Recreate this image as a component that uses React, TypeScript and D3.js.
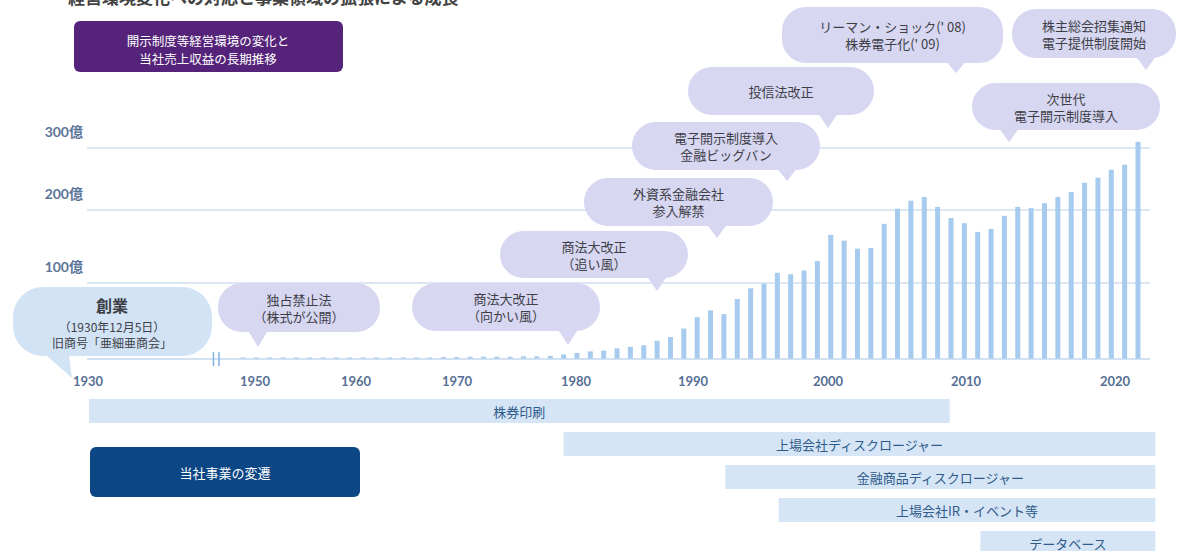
import React from 'react';
import * as d3 from 'd3';

const W = 1190;
const H = 551;

// ---------- data ----------
const FIRST_YEAR = 1955;
// 売上収益 (億円), fiscal years 1955 .. 2022
const revenue = [
  2, 2, 2, 2, 2, 2, 2, 2, 2, 2, 2,
  2, 2, 2, 2, 2.5, 2.5,
  3, 3, 3, 3, 3.5, 3.5, 4,
  6, 8, 10, 11, 14, 16, 18, 24, 29, 40, 55,
  64, 59, 79, 93, 99, 114, 112, 117, 130, 166,
  158, 147, 148, 181, 202, 215, 221, 205, 189, 182,
  170, 174, 192, 205, 203, 211, 221, 229, 244, 252,
  265, 273, 310,
];
const years = revenue.map((_, i) => FIRST_YEAR + i);

const yTicks = [100, 200, 300];
const yTickLabels = ['100億', '200億', '300億'];
const xTickYears = [1930, 1950, 1960, 1970, 1980, 1990, 2000, 2010, 2020];

const businessNames = [
  '株券印刷',
  '上場会社ディスクロージャー',
  '金融商品ディスクロージャー',
  '上場会社IR・イベント等',
  'データベース',
];
const businessStart = [1930, 1979, 1991.1, 1995.1, 2010.2];
const businessEnd = [2007.9, 2023.3, 2023.3, 2023.3, 2023.3];

const eventTexts: string[][] = [
  ['独占禁止法', '（株式が公開）'],
  ['商法大改正', '（向かい風）'],
  ['商法大改正', '（追い風）'],
  ['外資系金融会社', '参入解禁'],
  ['電子開示制度導入', '金融ビッグバン'],
  ['投信法改正'],
  ["リーマン・ショック(' 08)", "株券電子化(' 09)"],
  ['株主総会招集通知', '電子提供制度開始'],
  ['次世代', '電子開示制度導入'],
];

const foundingTexts = ['創業', '（1930年12月5日）', '旧商号「亜細亜商会」'];
const titleText = '開示制度等経営環境の変化と';
const titleText2 = '当社売上収益の長期推移';
const businessTitle = '当社事業の変遷';
const headText = '経営環境変化への対応と事業領域の拡張による成長';

// ---------- layout ----------
const BASE_Y = 359;
const yScale = d3.scaleLinear().domain([0, 100, 200, 300]).range([BASE_Y, 283, 210, 148]);
const xScale = d3.scaleLinear().domain([1930, 1955, 2022]).range([89, 243, 1138]);
const xLabelScale = d3
  .scaleLinear()
  .domain(xTickYears)
  .range([88, 255, 356, 457, 576, 693, 828, 966, 1115]);

const GRID_X0 = 87;
const GRID_X1 = 1150;
const BAR_W = 5;

// bubble boxes: [x0, y0, x1, y1, tipX, tipY]
const bubbleLayout: number[][] = [
  [218, 283, 380, 332, 258, 347],
  [412, 283, 600, 331, 568, 345],
  [500, 231, 688, 278, 657, 291],
  [584, 178, 773, 226, 717, 238],
  [632, 122, 820, 170, 787, 181],
  [688, 67, 874, 115, 828, 128],
  [782, 7, 1003, 63, 956, 73],
  [1012, 9, 1176, 58, 1146, 70],
  [972, 83, 1160, 130, 1009, 142],
];

const ROW_Y0 = 399;
const ROW_STEP = 33;
const ROW_H = 24;

const JP = "'Noto Sans CJK JP', 'Noto Sans', sans-serif";
const NUM = "Lato, 'Noto Sans CJK JP', sans-serif";

function Bubble({ box, lines, fill }: { box: number[]; lines: string[]; fill: string }) {
  const [x0, y0, x1, y1, tx, ty] = box;
  const h = y1 - y0;
  const r = Math.min(h / 2, 24);
  const cx = (x0 + x1) / 2;
  const cy = (y0 + y1) / 2;
  const lh = 17;
  const startY = cy - ((lines.length - 1) * lh) / 2;
  return (
    <g>
      <rect x={x0} y={y0} width={x1 - x0} height={h} rx={r} ry={r} fill={fill} />
      <polygon points={`${tx - 11},${y1 - 3} ${tx + 11},${y1 - 3} ${tx},${ty}`} fill={fill} />
      {lines.map((l, i) => (
        <text
          key={i}
          x={cx}
          y={startY + i * lh}
          textAnchor="middle"
          dominantBaseline="central"
          fontFamily={JP}
          fontSize={13}
          fill="#3e3e46"
        >
          {l}
        </text>
      ))}
    </g>
  );
}

export default function App() {
  return (
    <svg
      width={W}
      height={H}
      viewBox={`0 0 ${W} ${H}`}
      style={{ position: 'fixed', left: 0, top: 0, background: '#fff' }}
    >
      <rect x={0} y={0} width={W} height={H} fill="#fff" />

      {/* clipped heading */}
      <text x={68} y={4} fontFamily={JP} fontSize={17} fontWeight={700} fill="#444">
        {headText}
      </text>

      {/* purple title box */}
      <rect x={74} y={21} width={269} height={51} rx={6} fill="#55237a" />
      <text x={208} y={40} textAnchor="middle" dominantBaseline="central" fontFamily={JP} fontSize={12.5} fill="#fff">
        {titleText}
      </text>
      <text x={208} y={58} textAnchor="middle" dominantBaseline="central" fontFamily={JP} fontSize={12.5} fill="#fff">
        {titleText2}
      </text>

      {/* grid lines */}
      {yTicks.map((t, i) => (
        <g key={t}>
          <line x1={GRID_X0} x2={GRID_X1} y1={yScale(t)} y2={yScale(t)} stroke="#cfe0f1" strokeWidth={1.5} />
          <text
            x={83}
            y={yScale(t) - 17}
            textAnchor="end"
            dominantBaseline="central"
            fontFamily={NUM}
            fontWeight={700}
            fontSize={14}
            fill="#5b7599"
          >
            {yTickLabels[i]}
          </text>
        </g>
      ))}

      {/* bars */}
      {years.map((yr, i) => (
        <rect
          key={yr}
          x={xScale(yr) - BAR_W / 2}
          y={yScale(revenue[i])}
          width={BAR_W}
          height={BASE_Y - yScale(revenue[i])}
          fill="#a6cbef"
        />
      ))}

      {/* baseline */}
      <line x1={GRID_X0} x2={GRID_X1} y1={BASE_Y} y2={BASE_Y} stroke="#c3d9ef" strokeWidth={1.5} />
      {/* axis break */}
      <line x1={xScale(1950.2)} x2={xScale(1950.2)} y1={BASE_Y - 7} y2={BASE_Y + 7} stroke="#7fb2e3" strokeWidth={1.5} />
      <line x1={xScale(1951.1)} x2={xScale(1951.1)} y1={BASE_Y - 7} y2={BASE_Y + 7} stroke="#7fb2e3" strokeWidth={1.5} />

      {/* x tick labels */}
      {xTickYears.map((yr) => (
        <text
          key={yr}
          x={xLabelScale(yr)}
          y={381}
          textAnchor="middle"
          dominantBaseline="central"
          fontFamily={NUM}
          fontWeight={700}
          fontSize={13}
          fill="#566f94"
        >
          {yr}
        </text>
      ))}

      {/* founding bubble */}
      <g>
        <rect x={13} y={287} width={199} height={69} rx={30} ry={30} fill="#d1e3f5" />
        <polygon points="38,348 68,348 72,378" fill="#d1e3f5" />
        <text x={112} y={305} textAnchor="middle" dominantBaseline="central" fontFamily={JP} fontSize={16} fontWeight={700} fill="#3e3e46">
          {foundingTexts[0]}
        </text>
        <text x={112} y={326} textAnchor="middle" dominantBaseline="central" fontFamily={JP} fontSize={12} fill="#3e3e46">
          {foundingTexts[1]}
        </text>
        <text x={112} y={342} textAnchor="middle" dominantBaseline="central" fontFamily={JP} fontSize={12} fill="#3e3e46">
          {foundingTexts[2]}
        </text>
      </g>

      {/* event bubbles */}
      {eventTexts.map((lines, i) => (
        <Bubble key={i} box={bubbleLayout[i]} lines={lines} fill="#d7d7f2" />
      ))}

      {/* business bands */}
      {businessNames.map((name, i) => {
        const x0 = xScale(businessStart[i]);
        const x1 = xScale(businessEnd[i]);
        const y0 = ROW_Y0 + i * ROW_STEP;
        return (
          <g key={name}>
            <rect x={x0} y={y0} width={x1 - x0} height={ROW_H} fill="#d5e5f6" />
            <text
              x={(x0 + x1) / 2}
              y={y0 + ROW_H / 2}
              textAnchor="middle"
              dominantBaseline="central"
              fontFamily={JP}
              fontSize={13}
              fill="#2f5a8a"
            >
              {name}
            </text>
          </g>
        );
      })}

      {/* navy business title */}
      <rect x={90} y={447} width={270} height={50} rx={6} fill="#0d4684" />
      <text x={225} y={472} textAnchor="middle" dominantBaseline="central" fontFamily={JP} fontSize={13} fill="#fff">
        {businessTitle}
      </text>
    </svg>
  );
}
